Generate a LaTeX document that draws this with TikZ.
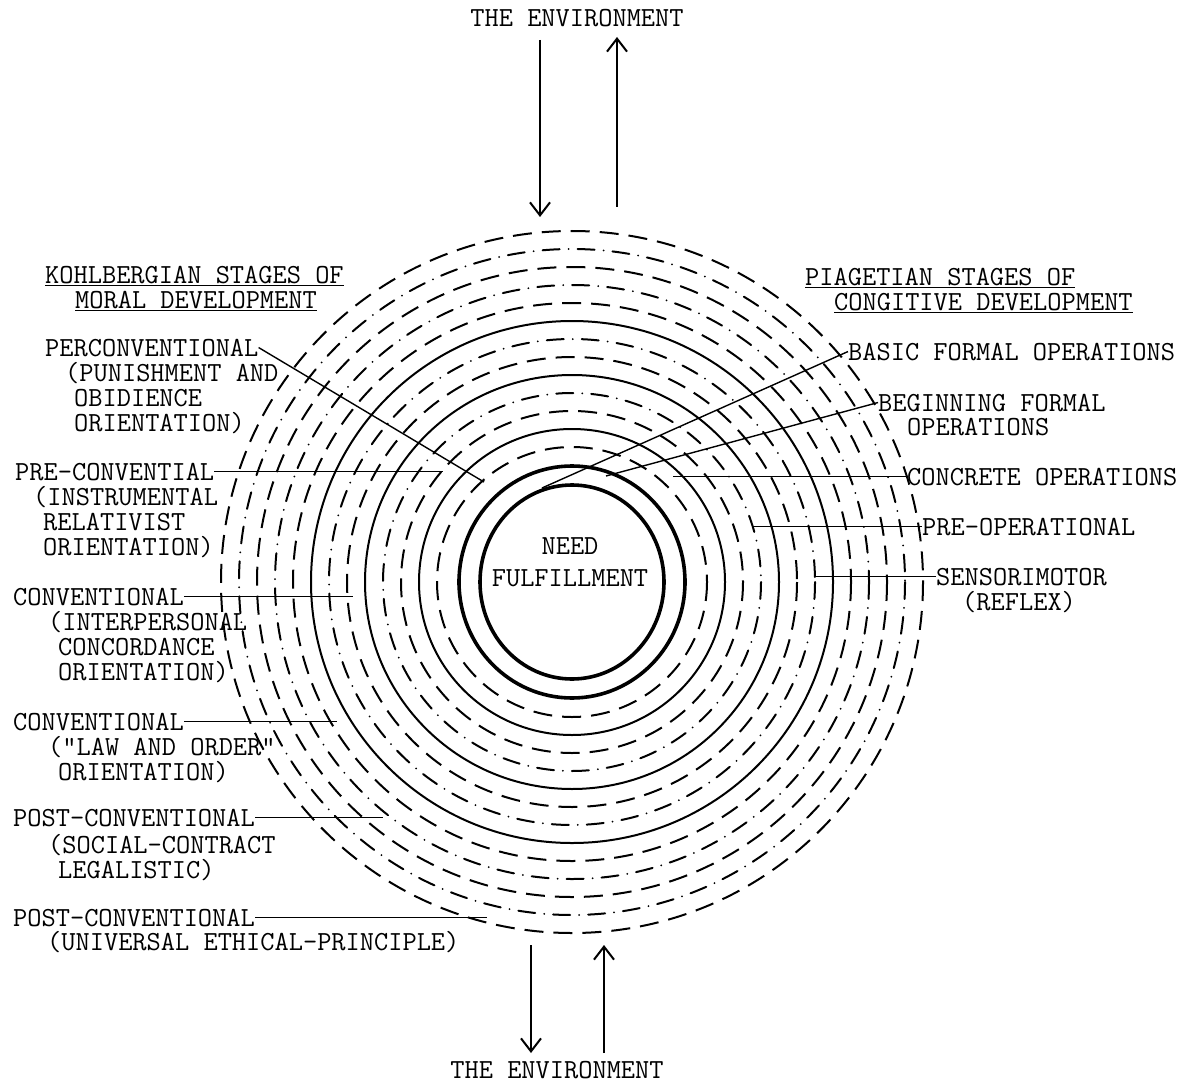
\documentclass[tikz,border=0pt]{standalone}
\usetikzlibrary{arrows.meta}
\begin{document}
\begin{tikzpicture}[
    x=1pt, y=-1pt,
    every node/.style={font=\ttfamily\fontsize{27.6}{24.8}\selectfont\setlength{\lineskiplimit}{-100pt}, inner sep=0pt},
    tag/.style={anchor=base west},
    note/.style={anchor=base west, align=left},
    lead/.style={line width=1.4pt},
    ring/.style={line width=2pt},
    dashring/.style={ring, dash pattern=on 19pt off 10pt},
    dotring/.style={ring, line cap=round, dash pattern=on 17pt off 9pt on 0pt off 9pt},
    core/.style={line width=3.6pt},
    flow/.style={line width=2pt, -{Straight Barb[length=13pt,width=20pt]}}
    ]
	\useasboundingbox (0,0) rectangle (1198,1083);
	\coordinate (ctr) at (572,582);
	% rings, from the inside out
	\foreach \r/\s in {135/dashring, 153/ring, 171/dashring, 189/dotring, 207/ring, 225/dashring, 243/dotring,
		261/ring, 279/dashring, 297/dotring, 315/dashring, 333/dotring, 351/dashring}
		\draw[\s] (ctr) circle[radius=\r];
	\draw[core] (ctr) ellipse[x radius=113, y radius=116];
	\draw[core] (ctr) ellipse[x radius=92, y radius=97];
	\node[align=center] (need) at (570,562) {NEED\\[7pt]FULFILLMENT};

	% the environment
	\node (envtop) at (577,18) {THE ENVIRONMENT};
	\node (envbot) at (557,1070) {THE ENVIRONMENT};
	\coordinate (intop) at (540,40);
	\coordinate (inring) at (540,217);
	\coordinate (outring) at (617,207);
	\coordinate (outtop) at (617,37);
	\coordinate (outbot) at (531,945);
	\coordinate (outend) at (531,1053);
	\coordinate (inbot) at (604,1053);
	\coordinate (inend) at (604,945);
	\draw[flow] (intop) -- (inring);
	\draw[flow] (outring) -- (outtop);
	\draw[flow] (outbot) -- (outend);
	\draw[flow] (inbot) -- (inend);

	% Kohlberg (a note sits on the baseline of its last line)
	\node[note] (ktitle) at (45,308) {\underline{KOHLBERGIAN STAGES OF}\\\hspace*{30pt}\underline{MORAL DEVELOPMENT}};
	\node[tag] (kpre) at (45,356) {PERCONVENTIONAL};
	\node[note] (kpre2) at (65,431) {(PUNISHMENT AND\\\hspace*{9pt}OBIDIENCE\\\hspace*{9pt}ORIENTATION)};
	\node[tag] (kinst) at (15,480) {PRE-CONVENTIAL};
	\node[note] (kinst2) at (33,555) {(INSTRUMENTAL\\\hspace*{10pt}RELATIVIST\\\hspace*{10pt}ORIENTATION)};
	\node[tag] (kconc) at (13,605) {CONVENTIONAL};
	\node[note] (kconc2) at (48,680) {(INTERPERSONAL\\\hspace*{10pt}CONCORDANCE\\\hspace*{10pt}ORIENTATION)};
	\node[tag] (klaw) at (13,730) {CONVENTIONAL};
	\node[note] (klaw2) at (48,780) {("LAW AND ORDER"\\\hspace*{10pt}ORIENTATION)};
	\node[tag] (ksoc) at (13,826) {POST-CONVENTIONAL};
	\node[note] (ksoc2) at (48,878) {(SOCIAL-CONTRACT\\\hspace*{10pt}LEGALISTIC)};
	\node[tag] (kuniv) at (13,926) {POST-CONVENTIONAL};
	\node[note] (kuniv2) at (47,950) {(UNIVERSAL ETHICAL-PRINCIPLE)};
	\coordinate (kpre-end) at (484,482);
	\coordinate (kinst-end) at (443,472);
	\coordinate (kconc-end) at (353,598);
	\coordinate (klaw-end) at (337,722);
	\coordinate (ksoc-end) at (383,820);
	\coordinate (kuniv-end) at (487,920);
	\draw[lead] (kpre.east) -- (kpre-end);
	\foreach \k in {kinst, kconc, klaw, ksoc, kuniv}
		\draw[lead] (\k.east) -- (\k.east -| \k-end);

	% Piaget
	\node[note] (ptitle) at (805,310) {\underline{PIAGETIAN STAGES OF}\\\hspace*{29pt}\underline{CONGITIVE DEVELOPMENT}};
	\node[tag] (pbasic) at (848,360) {BASIC FORMAL OPERATIONS};
	\node[tag] (pbegin) at (878,411) {BEGINNING FORMAL};
	\node[note] (pbegin2) at (907,435) {OPERATIONS};
	\node[tag] (pconc) at (907,485) {CONCRETE OPERATIONS};
	\node[tag] (ppre) at (922,535) {PRE-OPERATIONAL};
	\node[tag] (psens) at (936,585) {SENSORIMOTOR};
	\node[note] (psens2) at (962,610) {(REFLEX)};
	\coordinate (pbasic-end) at (542,488);
	\coordinate (pbegin-end) at (606,476);
	\coordinate (pconc-end) at (673,475);
	\coordinate (ppre-end) at (752,525);
	\coordinate (psens-end) at (815,575);
	\draw[lead] (pbasic.west) -- (pbasic-end);
	\draw[lead] (pbegin.west) -- (pbegin-end);
	\foreach \p in {pconc, ppre, psens}
		\draw[lead] (\p.west) -- (\p.west -| \p-end);
\end{tikzpicture}
\end{document}
